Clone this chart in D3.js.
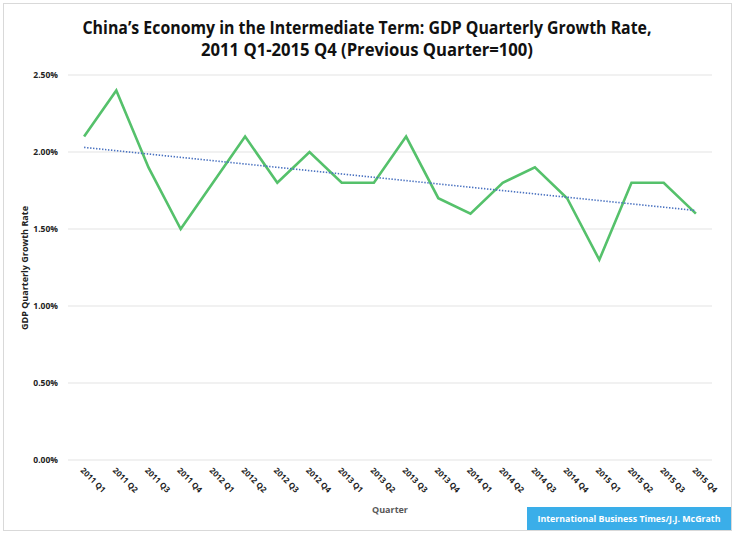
<!DOCTYPE html>
<html><head><meta charset="utf-8">
<script src="https://cdn.jsdelivr.net/npm/d3@7"></script>
<style>body{margin:0;background:#fff;} text{font-family:"Open Sans","Lato",sans-serif;}</style>
</head><body>
<svg id="c" width="736" height="536"></svg>
<script>
const quarters = ["2011 Q1","2011 Q2","2011 Q3","2011 Q4","2012 Q1","2012 Q2","2012 Q3","2012 Q4","2013 Q1","2013 Q2","2013 Q3","2013 Q4","2014 Q1","2014 Q2","2014 Q3","2014 Q4","2015 Q1","2015 Q2","2015 Q3","2015 Q4"];
const growth = [2.1,2.4,1.9,1.5,1.8,2.1,1.8,2.0,1.8,1.8,2.1,1.7,1.6,1.8,1.9,1.7,1.3,1.8,1.8,1.6];
const yTicks = [0,0.5,1.0,1.5,2.0,2.5];
const titleLines = ["China\u2019s Economy in the Intermediate Term: GDP Quarterly Growth Rate,","2011 Q1-2015 Q4 (Previous Quarter=100)"];
const yTitle = "GDP Quarterly Growth Rate";
const xTitle = "Quarter";
const credit = "International Business Times/J.J. McGrath";

const svg = d3.select("#c");
const L = 68, R = 712, T = 75, B = 460;

// outer border
svg.append("rect").attr("x",3.5).attr("y",3.5).attr("width",728).attr("height",527)
  .attr("fill","#fff").attr("stroke","#d9d9d9").attr("stroke-width",1);

const x = d3.scaleBand().domain(quarters).range([L,R]);
const xc = q => x(q) + x.bandwidth()/2;
const y = d3.scaleLinear().domain([0,2.5]).range([B,T]);

// gridlines
svg.append("g").selectAll("line").data(yTicks).join("line")
  .attr("x1",L).attr("x2",R).attr("y1",d=>y(d)).attr("y2",d=>y(d))
  .attr("stroke","#e3e3e3").attr("stroke-width",1);

// y axis labels
const yAxis = d3.axisLeft(y).tickValues(yTicks).tickSize(0).tickPadding(10).tickFormat(d=>d.toFixed(2)+"%");
const gy = svg.append("g").attr("transform",`translate(${L},0)`).call(yAxis);
gy.select(".domain").remove();
gy.selectAll("text").attr("font-size",8.5).attr("font-weight","bold").attr("fill","#222")
  .attr("font-family","'Open Sans',sans-serif");

// x axis labels
const xAxis = d3.axisBottom(x).tickSize(0).tickPadding(0);
const gx = svg.append("g").attr("transform",`translate(0,${B})`).call(xAxis);
gx.select(".domain").remove();
gx.selectAll("text").attr("font-size",8).attr("font-weight","bold").attr("fill","#222")
  .attr("font-family","'Open Sans',sans-serif")
  .attr("text-anchor","start").attr("dy",0).attr("y",0)
  .attr("transform","translate(-4,11) rotate(45)");

// trend line (least squares)
const n = growth.length;
const xs = d3.range(n);
const mx = d3.mean(xs), my = d3.mean(growth);
const slope = d3.sum(xs,(i)=>(i-mx)*(growth[i]-my)) / d3.sum(xs,i=>(i-mx)*(i-mx));
const icpt = my - slope*mx;
const trend = [0,n-1].map(i=>({q:quarters[i], v:icpt+slope*i}));

// data line
svg.append("path").datum(growth)
  .attr("d", d3.line().x((d,i)=>xc(quarters[i])).y(d=>y(d)))
  .attr("fill","none").attr("stroke","#55c16b").attr("stroke-width",2.6).attr("stroke-linejoin","miter");

svg.append("path").datum(trend)
  .attr("d", d3.line().x(d=>xc(d.q)).y(d=>y(d.v)))
  .attr("fill","none").attr("stroke","#4a72c0").attr("stroke-width",1.6).attr("stroke-dasharray","1.4 1.6");

// title
const tl = [{t:titleLines[0], y:34, w:569},{t:titleLines[1], y:56, w:332}];
svg.append("g").selectAll("text").data(tl).join("text")
  .attr("x",367).attr("y",d=>d.y).attr("text-anchor","middle")
  .attr("font-size",17).attr("font-weight","bold").attr("fill","#111")
  .attr("textLength",d=>d.w).attr("lengthAdjust","spacingAndGlyphs")
  .text(d=>d.t);

// y title
svg.append("text").attr("transform","translate(28,268) rotate(-90)")
  .attr("text-anchor","middle").attr("font-size",8.5).attr("font-weight","bold").attr("fill","#222")
  .attr("textLength",124).attr("lengthAdjust","spacingAndGlyphs")
  .text(yTitle);

// x title
svg.append("text").attr("x",390).attr("y",513).attr("text-anchor","middle")
  .attr("font-size",9).attr("font-weight","bold").attr("fill","#595959").text(xTitle);

// credit box
svg.append("rect").attr("x",527).attr("y",507).attr("width",204).attr("height",23).attr("fill","#3aaee9");
svg.append("text").attr("x",629).attr("y",522).attr("text-anchor","middle")
  .attr("font-size",9.5).attr("font-weight","bold").attr("fill","#fff")
  .attr("textLength",183).attr("lengthAdjust","spacingAndGlyphs").text(credit);
</script>
</body></html>
